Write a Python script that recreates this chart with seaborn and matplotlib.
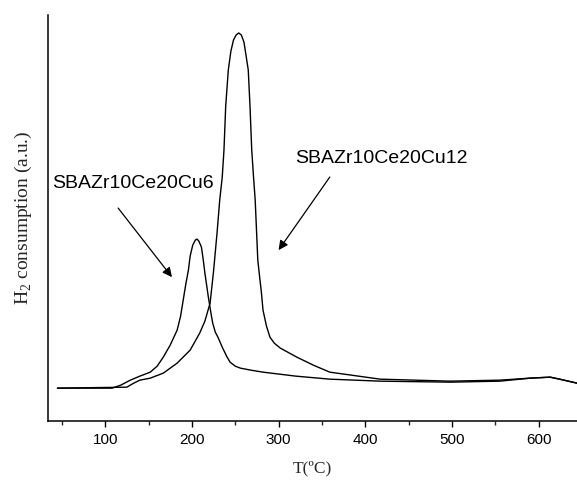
import matplotlib
matplotlib.use("Agg")
import matplotlib.pyplot as plt
import pandas as pd
import seaborn as sns

# TPR traces (temperature in C, signal in arbitrary units)
cu6_temp = [45, 108, 118, 129, 140, 152, 160, 167, 175, 183, 187, 190, 193, 196,
            198, 201, 204, 206, 208, 211, 213, 215, 217, 219, 222, 224, 227, 230,
            235, 240, 244, 250, 256, 268, 282, 320, 359, 417, 498, 555, 590, 613,
            624, 644]
cu6_signal = [33, 33, 36, 41, 45, 49, 55, 64, 76, 91, 105, 121, 137, 151,
              165, 176, 181, 182, 180, 174, 162, 148, 136, 124, 108, 98, 89, 84,
              74, 65, 59, 55, 53, 51, 49, 45, 42, 40, 39, 40, 43, 44,
              42, 38]

cu12_temp = [45, 125, 133, 140, 152, 167, 183, 198, 209, 215, 221, 225, 229, 232,
             235, 237, 239, 242, 245, 248, 251, 254, 257, 260, 262, 265, 267, 269,
             271, 273, 276, 278, 280, 282, 286, 290, 295, 302, 321, 340, 359, 417,
             498, 555, 590, 613, 624, 644]
cu12_signal = [33, 34, 38, 41, 43, 48, 58, 71, 88, 100, 118, 150, 188, 220,
               244, 271, 315, 351, 370, 381, 386, 388, 386, 379, 368, 351, 315, 271,
               245, 221, 161, 145, 130, 111, 95, 84, 78, 73, 64, 56, 49, 42,
               40, 41, 43, 44, 42, 38]

labels = ["SBAZr10Ce20Cu6", "SBAZr10Ce20Cu12"]

df = pd.concat([
    pd.DataFrame({"T": cu6_temp, "H2": cu6_signal, "sample": labels[0]}),
    pd.DataFrame({"T": cu12_temp, "H2": cu12_signal, "sample": labels[1]}),
])

sns.set_style("ticks")
plt.rcParams["font.family"] = ["Liberation Sans", "DejaVu Sans"]
plt.rcParams["text.color"] = "black"
plt.rcParams["mathtext.fontset"] = "custom"
plt.rcParams["mathtext.rm"] = "Liberation Serif"

fig = plt.figure(figsize=(5.77, 4.83), dpi=100)
ax = fig.add_axes([0.083, 0.128, 0.917, 0.841])

sns.lineplot(data=df, x="T", y="H2", units="sample", estimator=None,
             sort=False, color="black", lw=1.0, ax=ax)

ax.set_xlim(34, 644)
ax.set_ylim(0, 406)
ax.set_xticks([100, 200, 300, 400, 500, 600])
ax.set_xticks(range(50, 650, 50), minor=True)
ax.set_yticks([])
ax.tick_params(axis="x", which="major", length=4.5, width=1, direction="out",
               labelsize=11, pad=4, colors="black")
ax.tick_params(axis="x", which="minor", length=3, width=1, direction="out")
sns.despine(ax=ax)
for side in ["left", "bottom"]:
    ax.spines[side].set_linewidth(1.1)
    ax.spines[side].set_color("black")

serif = ["Liberation Serif", "DejaVu Serif"]
ax.set_xlabel("T(ºC)", family=serif, fontsize=12.5, labelpad=10)
ax.set_ylabel("H$_2$ consumption (a.u.)", family=serif, fontsize=14, labelpad=10)

# sample labels with arrows
ax.text(132, 238, labels[0], fontsize=14, ha="center", va="center")
ax.annotate("", xy=(177, 144), xytext=(115, 213),
            arrowprops=dict(arrowstyle="-|>", color="black", lw=0.9,
                            mutation_scale=14, shrinkA=0, shrinkB=0))
ax.text(418, 263, labels[1], fontsize=14, ha="center", va="center")
ax.annotate("", xy=(300, 171), xytext=(359, 244),
            arrowprops=dict(arrowstyle="-|>", color="black", lw=0.9,
                            mutation_scale=14, shrinkA=0, shrinkB=0))

fig.savefig("out.png", dpi=100)
